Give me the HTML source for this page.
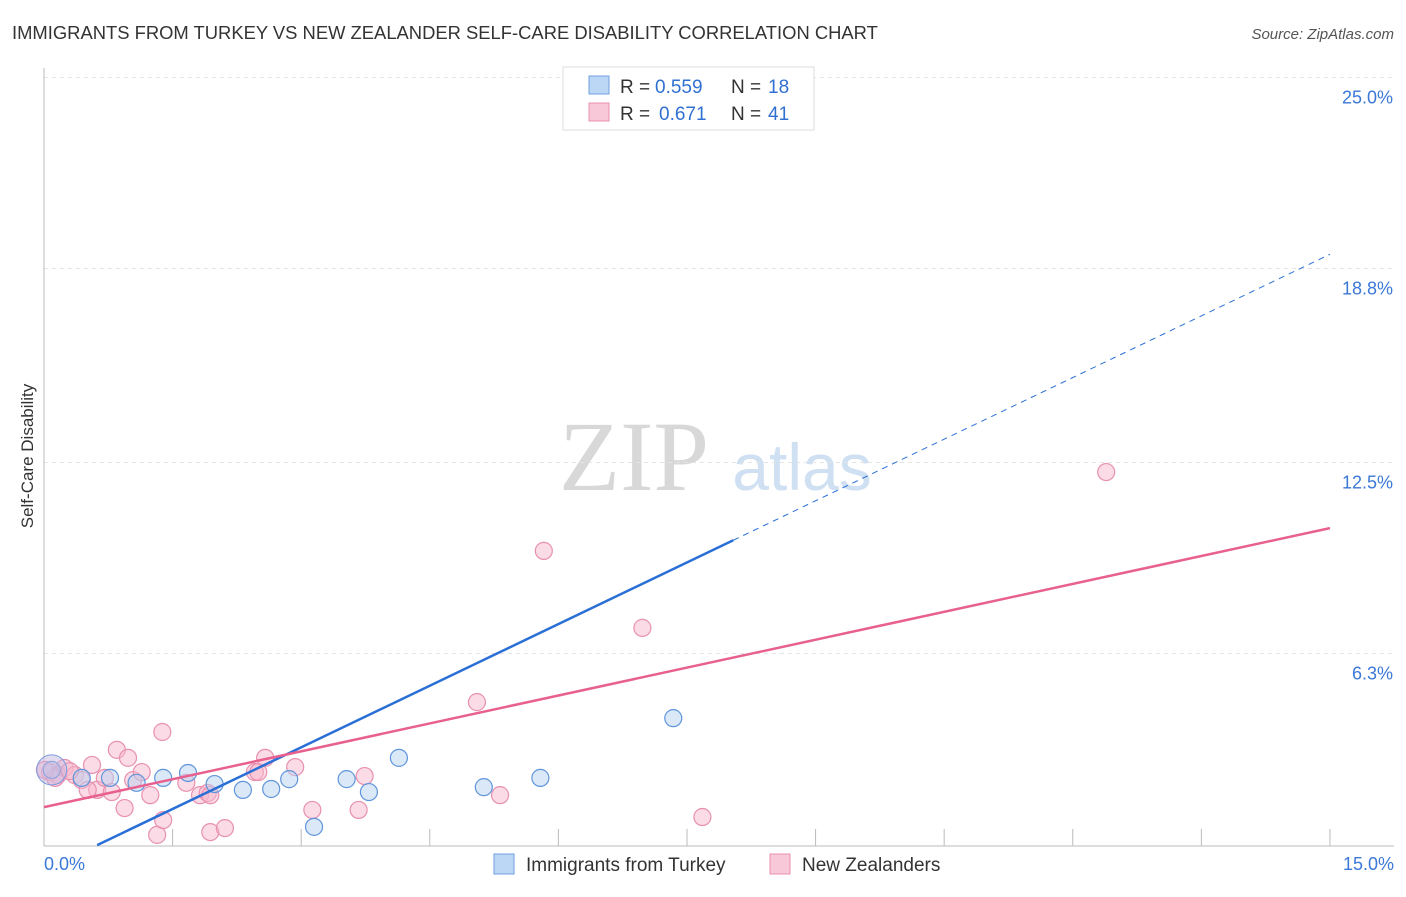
<!DOCTYPE html>
<html><head><meta charset="utf-8"><style>
body{margin:0;background:#fff;font-family:"Liberation Sans",sans-serif}
</style></head><body>
<svg id="chart" width="1406" height="892" font-family="Liberation Sans, sans-serif">
<text x="12" y="39" font-size="18.4" fill="#333">IMMIGRANTS FROM TURKEY VS NEW ZEALANDER SELF-CARE DISABILITY CORRELATION CHART</text>
<text x="1394" y="39" font-size="15" fill="#555" font-style="italic" text-anchor="end">Source: ZipAtlas.com</text>
<text x="33" y="456" font-size="17" fill="#333" text-anchor="middle" transform="rotate(-90 33 456)">Self-Care Disability</text>
<g><text x="634" y="490" font-size="100" fill="#d8d8d8" style="font-family:'Liberation Serif',serif" text-anchor="middle">ZIP</text><text x="802" y="490" font-size="66" fill="#cfe0f2" text-anchor="middle">atlas</text></g>
<g id="grid"></g><g id="marks"></g>
<g>
<rect x="563" y="67" width="251" height="63" fill="#fff" stroke="#ddd"/>
<rect x="589" y="76" width="20" height="18" fill="#bcd6f5" stroke="#6fa0e0"/>
<rect x="589" y="103" width="20" height="18" fill="#f9c8d8" stroke="#e890b0"/>
<text x="620" y="93" font-size="19" fill="#333">R =</text><text x="655" y="93" font-size="19" fill="#3070d0">0.559</text>
<text x="731" y="93" font-size="19" fill="#333">N =</text><text x="768" y="93" font-size="19" fill="#3070d0">18</text>
<text x="620" y="120" font-size="19" fill="#333">R =</text><text x="659" y="120" font-size="19" fill="#3070d0">0.671</text>
<text x="731" y="120" font-size="19" fill="#333">N =</text><text x="768" y="120" font-size="19" fill="#3070d0">41</text>
</g>
<g>
<rect x="494" y="854" width="20" height="20" fill="#bcd6f5" stroke="#6fa0e0"/>
<text x="526" y="871" font-size="19" fill="#333">Immigrants from Turkey</text>
<rect x="770" y="854" width="20" height="20" fill="#f9c8d8" stroke="#e890b0"/>
<text x="802" y="871" font-size="19" fill="#333">New Zealanders</text>
</g>
</svg>
<script>
const yTicks=[25.0,18.8,12.5,6.3];
const yTickLabels=["25.0%","18.8%","12.5%","6.3%"];
const xTicks=[0,1.5,3,4.5,6,7.5,9,10.5,12,13.5,15];
const blueX=[0.09,0.44,0.77,1.08,1.39,1.68,1.99,2.32,2.65,2.86,3.15,3.53,3.79,4.14,5.13,5.79,7.34,7.85];
const blueY=[2.52,2.26,2.26,2.10,2.26,2.42,2.06,1.87,1.90,2.22,0.67,2.22,1.80,2.91,1.96,2.26,4.20,24.85];
const pinkX=[0.07,0.16,0.24,0.36,0.44,0.56,0.62,0.71,0.79,0.85,0.94,0.98,1.04,1.14,1.24,1.32,1.38,1.39,1.66,1.82,1.91,1.94,2.11,2.46,2.50,2.58,2.93,3.13,3.67,3.74,5.05,5.32,5.83,6.98,7.68,12.39,0.13,0.51,0.30,1.94,0.01];
const pinkY=[2.45,2.35,2.58,2.35,2.19,2.68,1.87,2.26,1.80,3.17,1.28,2.91,2.19,2.45,1.70,0.41,3.75,0.89,2.10,1.70,1.77,0.50,0.63,2.45,2.45,2.91,2.61,1.22,1.22,2.32,4.72,1.70,9.63,7.13,0.99,12.19,2.26,1.87,2.48,1.70,2.52];
const blueTrend=[-0.75,1.334];
const pinkTrend=[1.31,0.604];
const NS="http://www.w3.org/2000/svg";
const sx=v=>44+v*85.73, sy=v=>847.5-v*30.8;
function mk(p,t,a){const e=document.createElementNS(NS,t);for(const k in a)e.setAttribute(k,a[k]);p.appendChild(e);return e;}
const grid=document.getElementById('grid'),marks=document.getElementById('marks');
yTicks.forEach((t,i)=>{
 const l=mk(grid,'line',{x1:44,x2:1394,y1:sy(t),y2:sy(t),stroke:'#e4e4e4','stroke-dasharray':'4,4'});
 
 
 const tx=mk(grid,'text',{x:1393,y:sy(t)+26,'font-size':18,fill:'#3b78d8','text-anchor':'end'});tx.textContent=yTickLabels[i];
 
 
});
const ax=mk(grid,'line',{x1:44,x2:44,y1:68,y2:846,stroke:'#bbb'});


const bx=mk(grid,'line',{x1:44,x2:1394,y1:846,y2:846,stroke:'#bbb'});


xTicks.forEach(t=>{const l=mk(grid,'line',{x1:sx(t),x2:sx(t),y1:829,y2:846,stroke:'#bbb'});
 
 });
[[0,'0.0%','start',44],[15,'15.0%','end',1394]].forEach(d=>{const t=mk(grid,'text',{x:d[3],y:870,'font-size':18,fill:'#3b78d8','text-anchor':d[2]});t.textContent=d[1];
 
 });
function pts(X,Y,fill,stroke,name){X.forEach((x,i)=>{const c=mk(marks,'circle',{cx:sx(x),cy:sy(Y[i]),r:8.5,fill:fill,stroke:stroke,'stroke-width':1.2,'fill-opacity':0.5});
 
 });}
pts(pinkX,pinkY,'#f7b8cc','#e890b0','new-zealander-point');
pts(blueX,blueY,'#b8d2f2','#5f95db','turkey-point');
const big=mk(marks,'circle',{cx:sx(0.09),cy:sy(2.52),r:15,fill:'#c8b8e0','fill-opacity':0.5,stroke:'#7a9ee0'});


const bx0=0.62,bx1=8.04;
let l1=mk(marks,'line',{x1:sx(bx0),y1:sy(blueTrend[0]+blueTrend[1]*bx0),x2:sx(bx1),y2:sy(blueTrend[0]+blueTrend[1]*bx1),stroke:'#2a6fd6','stroke-width':2.5});


let l2=mk(marks,'line',{x1:sx(bx1),y1:sy(blueTrend[0]+blueTrend[1]*bx1),x2:sx(15),y2:sy(blueTrend[0]+blueTrend[1]*15),stroke:'#2a6fd6','stroke-width':1,'stroke-dasharray':'6,5'});


let l3=mk(marks,'line',{x1:sx(0),y1:sy(pinkTrend[0]),x2:sx(15),y2:sy(pinkTrend[0]+pinkTrend[1]*15),stroke:'#e8608e','stroke-width':2.5});


</script>
</body></html>
